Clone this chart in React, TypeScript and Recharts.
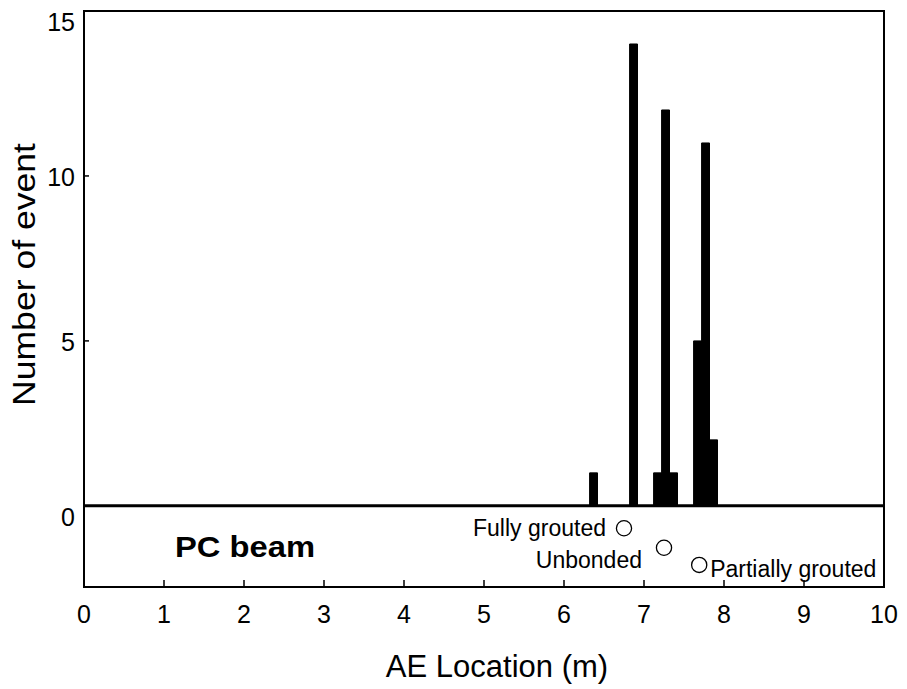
import React from "react";
import {
  ComposedChart,
  Bar,
  Scatter,
  XAxis,
  YAxis,
  ReferenceLine,
  ReferenceArea,
  Customized,
} from "recharts";

const FONT = '"Liberation Sans", Arial, Helvetica, sans-serif';

// histogram bins (bin centre in m) and event counts
const locations = [6.37, 6.87, 7.17, 7.27, 7.37, 7.67, 7.77, 7.87];
const eventCounts = [1, 14, 1, 12, 1, 5, 11, 2];

// specimen markers drawn under the zero line
const specimenNames = ["Fully grouted", "Unbonded", "Partially grouted"];
const specimenX = [6.75, 7.25, 7.69];
const specimenY = [-0.68, -1.27, -1.79];

const xTicks = [0, 1, 2, 3, 4, 5, 6, 7, 8, 9, 10];
const yTicks = [0, 5, 10, 15];

const barData = locations.map((x, i) => ({ x, count: eventCounts[i] }));
const specimenData = specimenNames.map((name, i) => ({ x: specimenX[i], y: specimenY[i], name }));

// where each specimen name sits relative to its circle
const labelPlacement: Record<string, { dx: number; dy: number; anchor: "start" | "end" }> = {
  "Fully grouted": { dx: -18, dy: 8, anchor: "end" },
  Unbonded: { dx: -22, dy: 20, anchor: "end" },
  "Partially grouted": { dx: 11, dy: 12, anchor: "start" },
};

const XTick = ({ x, y, payload }: any) => (
  <g>
    <line x1={x} x2={x} y1={y} y2={y - 7} stroke="#000" strokeWidth={1.5} />
    <text x={x} y={y + 36} textAnchor="middle" fontSize={25} fontFamily={FONT} fill="#000">
      {payload.value}
    </text>
  </g>
);

const YTick = ({ x, y, payload }: any) => {
  // end labels sit a little lower than the tick, as in the original
  const dy = payload.value === 0 || payload.value === 15 ? 20 : 10;
  return (
    <g>
      <line x1={x} x2={x + 5} y1={y} y2={y} stroke="#000" strokeWidth={1.5} />
      <text x={x - 9} y={y + dy} textAnchor="end" fontSize={25} fontFamily={FONT} fill="#000">
        {payload.value}
      </text>
    </g>
  );
};

const SpecimenMarker = ({ cx, cy, payload }: any) => {
  const pl = labelPlacement[payload.name];
  return (
    <g>
      <circle cx={cx} cy={cy} r={7.6} fill="#fff" stroke="#000" strokeWidth={1.3} />
      <text x={cx + pl.dx} y={cy + pl.dy} textAnchor={pl.anchor} fontSize={23} fontFamily={FONT} fill="#000">
        {payload.name}
      </text>
    </g>
  );
};

export default function App() {
  return (
    <div style={{ position: "absolute", left: 0, top: 0, background: "#fff" }}>
      <ComposedChart
        width={907}
        height={689}
        data={barData}
        barSize={7.9}
        margin={{ top: 11, right: 23, bottom: 101, left: 83 }}
      >
        <XAxis
          dataKey="x"
          type="number"
          domain={[0, 10]}
          ticks={xTicks}
          allowDataOverflow
          height={1}
          tickSize={0}
          tickMargin={0}
          tickLine={false}
          axisLine={false}
          tick={(props: any) => <XTick {...props} />}
          interval={0}
          label={{
            content: ({ viewBox }: any) => (
              <text
                x={viewBox.x + viewBox.width / 2 + 13}
                y={viewBox.y + 90}
                textAnchor="middle"
                fontSize={31}
                fontFamily={FONT}
                fill="#000"
              >
                AE Location (m)
              </text>
            ),
          }}
        />
        {/* separate x axis for the specimen markers so they don't shrink the bar band */}
        <XAxis xAxisId="pts" dataKey="x" type="number" domain={[0, 10]} allowDataOverflow hide />
        <YAxis
          type="number"
          domain={[-2.46, 15]}
          ticks={yTicks}
          allowDataOverflow
          width={1}
          tickSize={0}
          tickMargin={0}
          tickLine={false}
          axisLine={false}
          tick={(props: any) => <YTick {...props} />}
          interval={0}
          label={{
            content: ({ viewBox }: any) => {
              const cx = viewBox.x + viewBox.width - 49;
              const cy = viewBox.y + viewBox.height / 2 - 24.5;
              return (
                <text
                  x={cx}
                  y={cy}
                  transform={`rotate(-90 ${cx} ${cy})`}
                  textAnchor="middle"
                  fontSize={32}
                  fontFamily={FONT}
                  fill="#000"
                  textLength={263}
                  lengthAdjust="spacingAndGlyphs"
                >
                  Number of event
                </text>
              );
            },
          }}
        />
        <ReferenceArea x1={0} x2={10} y1={-2.46} y2={15} fill="none" stroke="#000" strokeWidth={2} ifOverflow="visible" />
        <Bar dataKey="count" fill="#000" stroke="#000" strokeWidth={1} isAnimationActive={false} />
        <ReferenceLine y={0} stroke="#000" strokeWidth={3} />
        <Scatter
          xAxisId="pts"
          data={specimenData}
          dataKey="y"
          shape={(props: any) => <SpecimenMarker {...props} />}
          isAnimationActive={false}
        />
        <Customized
          component={() => (
            <text
              x={175}
              y={557}
              fontSize={30}
              fontWeight="bold"
              fontFamily={FONT}
              fill="#000"
              textLength={140}
              lengthAdjust="spacingAndGlyphs"
            >
              PC beam
            </text>
          )}
        />
      </ComposedChart>
    </div>
  );
}
